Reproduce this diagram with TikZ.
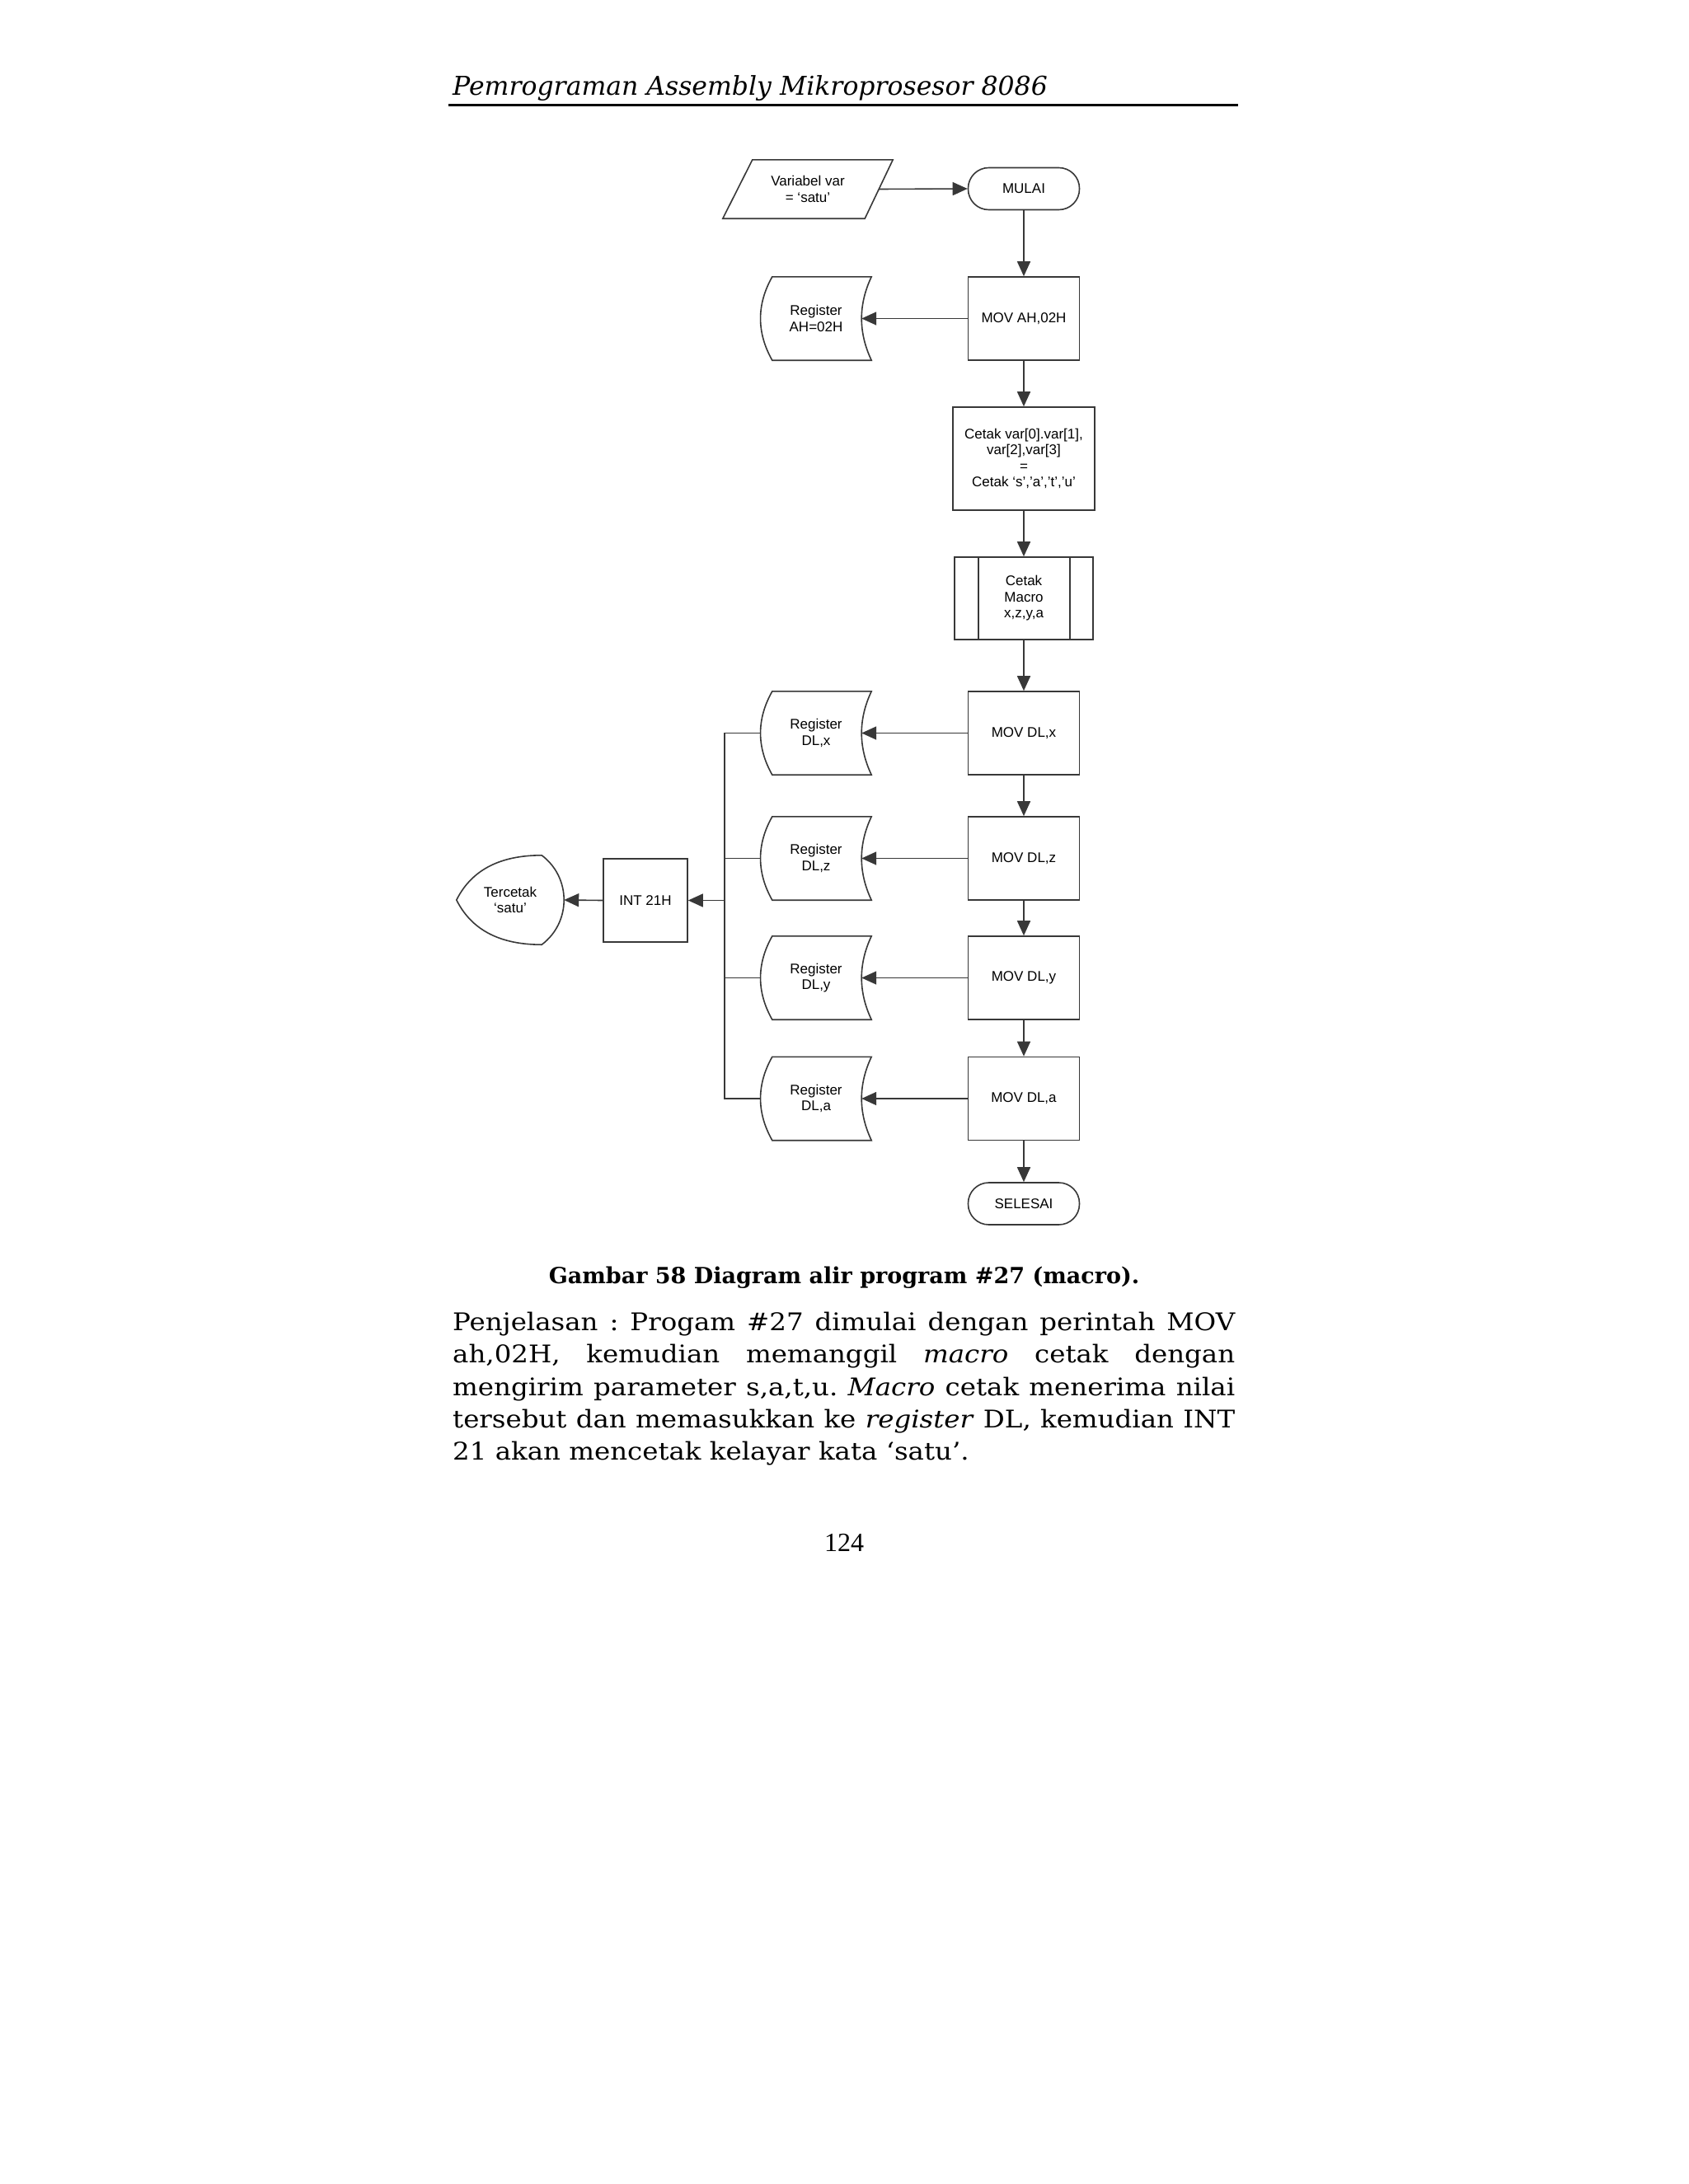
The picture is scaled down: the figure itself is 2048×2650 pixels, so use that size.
\documentclass[tikz,border=0pt]{standalone}
\usepackage{fontspec}
\setmainfont{DejaVu Serif}
\newfontfamily\bodyfont[FakeStretch=1.1]{DejaVu Serif}
\newfontfamily\dfont{Liberation Sans}
\newfontfamily\pnfont{Liberation Serif}
\usetikzlibrary{arrows.meta,calc}
\frenchspacing

\newcommand\regoutline[1]{%
  \draw[ln] ([xshift=14pt]#1.north west) -- (#1.north east)
    .. controls ($(#1.north east)!.333!(#1.south east)+(-16,0)$) and ($(#1.north east)!.667!(#1.south east)+(-16,0)$) .. (#1.south east)
    -- ([xshift=14pt]#1.south west)
    .. controls ($(#1.north west)!.667!(#1.south west)+(-5,0)$) and ($(#1.north west)!.333!(#1.south west)+(-5,0)$) .. ([xshift=14pt]#1.north west) -- cycle;}

\begin{document}
\begin{tikzpicture}[x=1pt,y=-1pt,
  ln/.style={line width=1.6pt, draw=black!78},
  arr/.style={ln, -{Triangle[length=18pt,width=16pt]}},
  dtext/.style={font=\dfont\fontsize{17}{19.5}\selectfont, align=center, inner sep=0pt},
  box/.style={ln, rectangle, minimum width=135pt, minimum height=101pt, dtext},
  term/.style={box, rounded corners=25pt, minimum height=51pt},
  free/.style={dtext},
  regnode/.style={free, minimum width=134pt, minimum height=101pt},
  para/.style={anchor=base west, inner sep=0pt, font=\bodyfont\frenchspacing\fontsize{29.5}{39}\selectfont}]
\fill[white] (0,0) rectangle (2048,2650);
\useasboundingbox (0,0) rectangle (2048,2650);

% header
\node[anchor=base west, inner sep=0pt, font=\itshape\fontsize{31.5}{36}\selectfont] (hdr) at (549,115) {Pemrograman Assembly Mikroprosesor 8086};
\coordinate (rl) at (544,127);
\coordinate (rr) at (1502,127);
\draw[line width=3pt] (rl) -- (rr);

% main column
\node[free, minimum width=206pt, minimum height=71pt] (var) at (980,229.5) {Variabel var\\= ‘satu’};
\draw[ln] ([xshift=36pt]var.north west) -- (var.north east) -- ([xshift=-34pt]var.south east) -- (var.south west) -- cycle;
\node[term] (mulai) at (1242,229) {MULAI};
\node[box] (movah) at (1242,386.5) {MOV AH,02H};
\node[regnode] (regah) at (990,386.5) {Register\\AH=02H};
\regoutline{regah}
\node[box, minimum width=172pt, minimum height=125pt] (cetak) at (1242,556.5) {Cetak var[0].var[1],\\var[2],var[3]\\=\\Cetak ‘s’,’a’,’t’,’u’};
\node[box, minimum width=168pt, minimum height=100pt] (macro) at (1242,726) {Cetak\\Macro\\x,z,y,a};
\draw[ln] ([xshift=30pt]macro.north west) -- ([xshift=30pt]macro.south west);
\draw[ln] ([xshift=-29pt]macro.north east) -- ([xshift=-29pt]macro.south east);
\node[box] (movx) at (1242,889.5) {MOV DL,x};
\node[box] (movz) at (1242,1041.5) {MOV DL,z};
\node[box] (movy) at (1242,1186.5) {MOV DL,y};
\node[box] (mova) at (1242,1333) {MOV DL,a};
\node[term] (selesai) at (1242,1460.5) {SELESAI};

\node[regnode] (regx) at (990,889.5) {Register\\DL,x};
\node[regnode] (regz) at (990,1041.5) {Register\\DL,z};
\node[regnode] (regy) at (990,1186.5) {Register\\DL,y};
\node[regnode] (rega) at (990,1333) {Register\\DL,a};
\foreach \r in {regx,regz,regy,rega} {\regoutline{\r}}

\node[box, minimum width=102pt] (int) at (783,1092.5) {INT 21H};
\node[free, minimum width=130pt, minimum height=108pt] (tc) at (619,1092) {Tercetak\\‘satu’};
\draw[ln] (tc.west) .. controls ([xshift=21pt,yshift=42pt]tc.west) and ([xshift=-4pt]tc.north) .. ([xshift=-27pt]tc.north east)
  .. controls ([xshift=9pt,yshift=-27pt]tc.north east) and ([xshift=9pt,yshift=27pt]tc.south east) .. ([xshift=-27pt]tc.south east)
  .. controls ([xshift=-4pt]tc.south) and ([xshift=21pt,yshift=-42pt]tc.west) .. (tc.west) -- cycle;

% connectors
\draw[arr] ([xshift=-17pt]var.east) -- (mulai.west);
\draw[arr] (mulai.south) -- (movah.north);
\draw[arr] (movah.west) -- ([xshift=-12pt]regah.east);
\draw[arr] (movah.south) -- (cetak.north);
\draw[arr] (cetak.south) -- (macro.north);
\draw[arr] (macro.south) -- (movx.north);
\draw[arr] (movx.south) -- (movz.north);
\draw[arr] (movz.south) -- (movy.north);
\draw[arr] (movy.south) -- (mova.north);
\draw[arr] (mova.south) -- (selesai.north);
\foreach \m/\r in {movx/regx,movz/regz,movy/regy,mova/rega} {\draw[arr] (\m.west) -- ([xshift=-12pt]\r.east);}
\coordinate (bus) at (879,1092.5);
\draw[ln] (regx.west) -- (regx.west -| bus) -- (rega.west -| bus) -- (rega.west);
\draw[ln] (regz.west) -- (regz.west -| bus);
\draw[ln] (regy.west) -- (regy.west -| bus);
\draw[arr] (bus) -- (int.east);
\draw[arr] (int.west) -- (tc.east);

% caption and text
\node[anchor=base, inner sep=0pt, font=\bfseries\fontsize{27}{34}\selectfont] (cap) at (1024,1557) {Gambar 58 Diagram alir program \#27 (macro).};
\node[para] (p1) at (549,1614) {\makebox[949pt][s]{Penjelasan : Progam \#27 dimulai dengan perintah MOV}};
\node[para] (p2) at (549,1653) {\makebox[949pt][s]{ah,02H, kemudian memanggil \textit{macro} cetak dengan}};
\node[para] (p3) at (549,1693) {\makebox[949pt][s]{mengirim parameter s,a,t,u. \textit{Macro} cetak menerima nilai}};
\node[para] (p4) at (549,1732) {\makebox[949pt][s]{tersebut dan memasukkan ke \textit{register} DL, kemudian INT}};
\node[para] (p5) at (549,1771) {21 akan mencetak kelayar kata ‘satu’.};
\node[anchor=base, inner sep=0pt, font=\pnfont\fontsize{32}{38}\selectfont] (pg) at (1024,1882) {124};
\end{tikzpicture}
\end{document}
